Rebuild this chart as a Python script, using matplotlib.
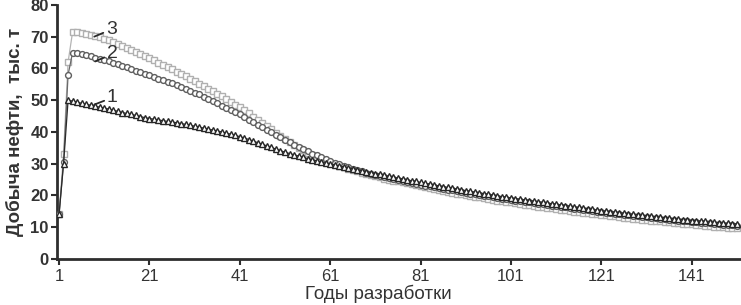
import matplotlib

matplotlib.use("Agg")
import matplotlib.pyplot as plt

plt.rcParams["font.family"] = ["Liberation Sans", "DejaVu Sans"]

# годы разработки 1..151
years = list(range(1, 152))

# вариант 1 (треугольники)
oil_1 = [
    14.0, 30.0, 50.0, 49.7, 49.4, 49.0, 48.7, 48.4, 48.1, 47.8,
    47.5, 47.2, 46.8, 46.5, 46.1, 45.8, 45.5, 45.2, 44.8, 44.5,
    44.2, 44.0, 43.8, 43.5, 43.3, 43.1, 42.9, 42.6, 42.4, 42.1,
    41.8, 41.5, 41.2, 40.9, 40.6, 40.3, 40.0, 39.6, 39.3, 38.9,
    38.5, 38.1, 37.6, 37.1, 36.6, 36.1, 35.6, 35.1, 34.6, 34.1,
    33.6, 33.2, 32.8, 32.4, 32.0, 31.6, 31.2, 30.9, 30.5, 30.2,
    29.9, 29.6, 29.3, 29.0, 28.7, 28.4, 28.1, 27.8, 27.5, 27.2,
    26.9, 26.6, 26.3, 26.0, 25.7, 25.4, 25.2, 24.9, 24.6, 24.4,
    24.1, 23.8, 23.6, 23.3, 23.0, 22.8, 22.5, 22.3, 22.0, 21.8,
    21.5, 21.3, 21.0, 20.8, 20.6, 20.3, 20.1, 19.9, 19.6, 19.4,
    19.2, 19.0, 18.8, 18.6, 18.4, 18.2, 18.0, 17.8, 17.6, 17.4,
    17.2, 17.0, 16.8, 16.6, 16.4, 16.2, 16.0, 15.8, 15.6, 15.4,
    15.2, 15.0, 14.9, 14.7, 14.5, 14.4, 14.2, 14.0, 13.9, 13.7,
    13.6, 13.4, 13.3, 13.1, 13.0, 12.8, 12.7, 12.5, 12.4, 12.3,
    12.1, 12.0, 11.9, 11.8, 11.6, 11.5, 11.4, 11.3, 11.2, 11.1,
    11.0,
]

# вариант 2 (кружки)
oil_2 = [
    14.0, 30.5, 58.0, 65.0, 64.8, 64.5, 64.2, 63.8, 63.4, 63.0,
    62.6, 62.2, 61.7, 61.3, 60.8, 60.3, 59.8, 59.3, 58.8, 58.3,
    57.8, 57.3, 56.8, 56.3, 55.8, 55.3, 54.8, 54.2, 53.6, 53.0,
    52.4, 51.8, 51.1, 50.4, 49.7, 49.0, 48.3, 47.6, 46.9, 46.2,
    45.5, 44.7, 43.9, 43.1, 42.3, 41.5, 40.7, 39.9, 39.1, 38.3,
    37.5, 36.7, 36.0, 35.3, 34.6, 33.9, 33.2, 32.6, 32.0, 31.4,
    30.8, 30.3, 29.8, 29.3, 28.8, 28.4, 28.0, 27.6, 27.2, 26.8,
    26.5, 26.1, 25.8, 25.5, 25.2, 24.9, 24.6, 24.3, 24.0, 23.7,
    23.4, 23.1, 22.9, 22.6, 22.3, 22.1, 21.8, 21.6, 21.3, 21.1,
    20.8, 20.6, 20.4, 20.1, 19.9, 19.7, 19.5, 19.3, 19.0, 18.8,
    18.6, 18.4, 18.2, 18.0, 17.8, 17.6, 17.4, 17.2, 17.0, 16.8,
    16.6, 16.4, 16.2, 16.0, 15.8, 15.6, 15.5, 15.3, 15.1, 14.9,
    14.7, 14.6, 14.4, 14.2, 14.1, 13.9, 13.7, 13.6, 13.4, 13.3,
    13.1, 13.0, 12.8, 12.7, 12.5, 12.4, 12.2, 12.1, 12.0, 11.8,
    11.7, 11.6, 11.4, 11.3, 11.2, 11.1, 11.0, 10.8, 10.7, 10.6,
    10.5,
]

# вариант 3 (квадраты)
oil_3 = [
    14.0, 33.0, 62.0, 71.5, 71.4, 71.2, 70.9, 70.6, 70.2, 69.8,
    69.3, 68.8, 68.3, 67.7, 67.1, 66.5, 65.9, 65.3, 64.6, 63.9,
    63.2, 62.5, 61.8, 61.1, 60.4, 59.7, 59.0, 58.3, 57.6, 56.8,
    56.0, 55.2, 54.4, 53.6, 52.8, 52.0, 51.2, 50.4, 49.5, 48.6,
    47.7, 46.8, 45.8, 44.8, 43.8, 42.8, 41.8, 40.8, 39.8, 38.8,
    37.8, 36.8, 35.9, 35.0, 34.2, 33.4, 32.7, 32.0, 31.4, 30.8,
    30.3, 29.8, 29.3, 28.8, 28.4, 28.0, 27.6, 27.2, 26.8, 26.4,
    26.0, 25.7, 25.3, 25.0, 24.7, 24.4, 24.1, 23.8, 23.5, 23.2,
    22.9, 22.6, 22.3, 22.0, 21.7, 21.4, 21.2, 20.9, 20.6, 20.4,
    20.1, 19.9, 19.6, 19.4, 19.1, 18.9, 18.7, 18.4, 18.2, 18.0,
    17.8, 17.5, 17.3, 17.1, 16.9, 16.7, 16.5, 16.3, 16.1, 15.9,
    15.7, 15.5, 15.3, 15.1, 14.9, 14.7, 14.6, 14.4, 14.2, 14.0,
    13.9, 13.7, 13.5, 13.4, 13.2, 13.0, 12.9, 12.7, 12.6, 12.4,
    12.3, 12.1, 12.0, 11.8, 11.7, 11.5, 11.4, 11.3, 11.1, 11.0,
    10.9, 10.7, 10.6, 10.5, 10.4, 10.2, 10.1, 10.0, 9.9, 9.8,
    9.7,
]

x_ticks = [1, 21, 41, 61, 81, 101, 121, 141]
y_ticks = [0, 10, 20, 30, 40, 50, 60, 70, 80]

TEXT = "#333333"

fig = plt.figure(figsize=(7.41, 3.05), dpi=100, facecolor="white")
ax = fig.add_axes([0.077, 0.151, 0.923, 0.833])

ax.plot(years, oil_3, color="#b4b4b4", lw=0.9, marker="s", ms=4.2,
        mfc="white", mec="#b0b0b0", mew=1.0, zorder=2)
ax.plot(years, oil_2, color="#6a6a6a", lw=0.9, marker="o", ms=4.2,
        mfc="white", mec="#5e5e5e", mew=1.0, zorder=3)
ax.plot(years, oil_1, color="#2a2a2a", lw=0.9, marker="^", ms=4.2,
        mfc="white", mec="#262626", mew=1.0, zorder=4)

# подписи кривых с выносками
for label, tip, pos in [("3", (8.8, 70.0), (11.4, 72.3)),
                        ("2", (9.0, 62.2), (11.6, 64.6)),
                        ("1", (8.8, 48.6), (11.6, 50.8))]:
    ax.annotate(label, xy=tip, xytext=pos, fontsize=14, color=TEXT,
                ha="left", va="center", zorder=6,
                arrowprops=dict(arrowstyle="-", color="#2a2a2a", lw=1.3,
                                shrinkA=0, shrinkB=0))

ax.set_xlim(0.56, 151.9)
ax.set_ylim(0, 80)
ax.set_xticks(x_ticks)
ax.set_yticks(y_ticks)

for side in ("top", "right"):
    ax.spines[side].set_visible(False)
for side in ("left", "bottom"):
    ax.spines[side].set_linewidth(2.0)
    ax.spines[side].set_color("#2e2e2e")

ax.tick_params(axis="both", direction="out", length=4, width=1.5,
               colors="#2e2e2e", labelcolor=TEXT, labelsize=12)
ax.tick_params(axis="y", pad=2)
for lbl in ax.get_yticklabels():
    lbl.set_fontweight("bold")

ax.set_ylabel("Добыча нефти,  тыс. т", fontsize=13.5, fontweight="bold",
              color=TEXT)
ax.yaxis.set_label_coords(-0.048, 0.5)
ax.set_xlabel("Годы разработки", fontsize=13.5, color=TEXT)
ax.xaxis.set_label_coords(0.47, -0.1)

fig.savefig("out.png", dpi=100, facecolor="white")
